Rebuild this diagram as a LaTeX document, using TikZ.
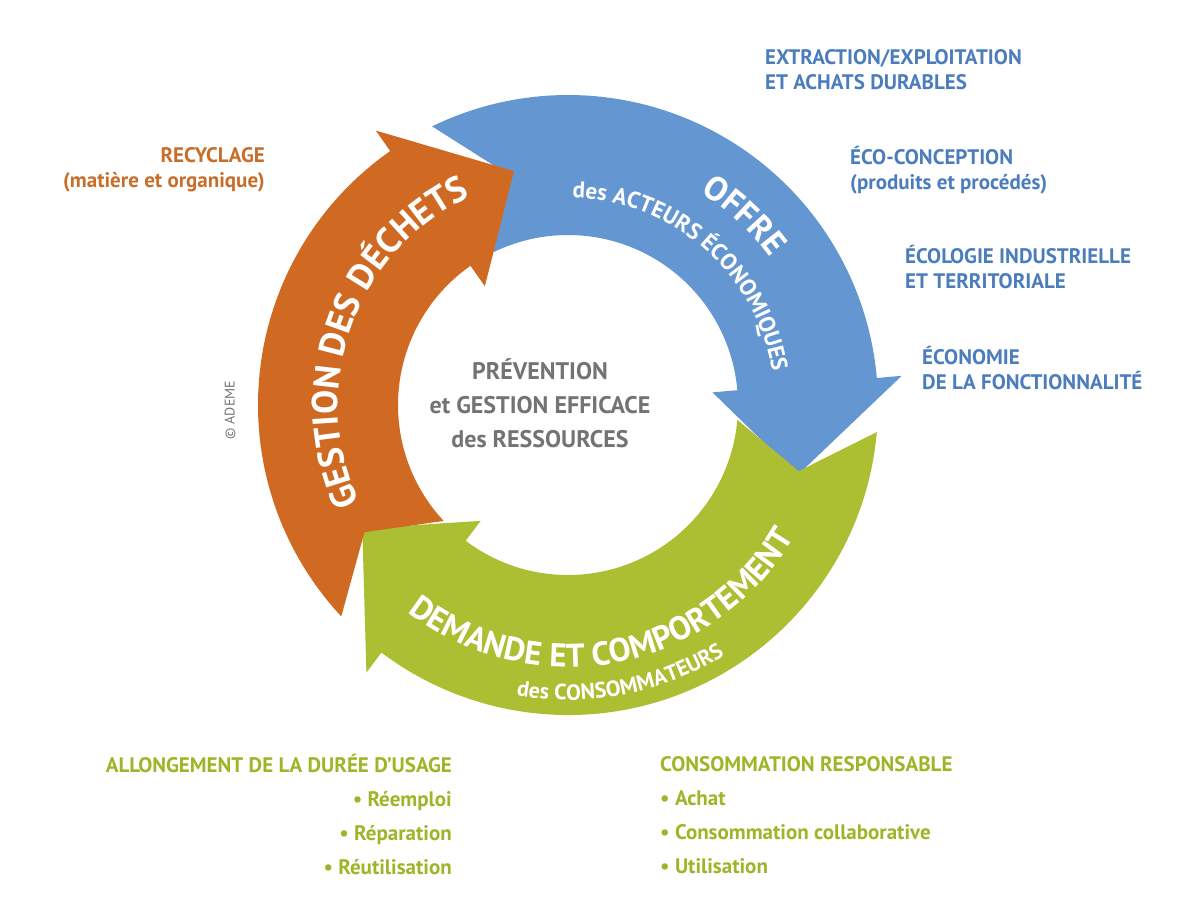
\documentclass[tikz,border=0pt]{standalone}
\usepackage{fontspec}
\setmainfont{PT Sans}
\usetikzlibrary{calc,decorations.text}
\definecolor{corange}{RGB}{208,106,34}
\definecolor{cblue}{RGB}{100,150,210}
\definecolor{cgreen}{RGB}{172,190,50}
\definecolor{torange}{RGB}{200,110,40}
\definecolor{tblue}{RGB}{75,125,190}
\definecolor{tgreen}{RGB}{160,180,40}
\definecolor{tgray}{RGB}{115,115,115}
\newcommand\circarrow[3]{%
\fill[#1] ($(C)+(#2:310)$) arc[start angle=#2, end angle=#3, radius=310pt]
 -- ($(C)+(#3:335)$) -- ($(C)+(#3-22:240)$) -- ($(C)+(#3:145)$) -- ($(C)+(#3:170)$)
 arc[start angle=#3, end angle=#2, radius=170pt] -- ($(C)+(#2-11:240)$) -- cycle;}
\newcommand\arctext[6]{% r, a0, a1, size, text, color
\path[decorate,decoration={text along path,text align=center,text color=#6,
 text={|\fontsize{#4}{#4}\selectfont\bfseries|#5}}]
 ($(C)+(#2:#1)$) arc[start angle=#2, end angle=#3, radius=#1pt];}
\tikzset{lbl/.style={font=\fontsize{21}{25}\selectfont\bfseries,inner sep=0pt},
 ctr/.style={font=\fontsize{24}{34}\selectfont\bfseries,text=tgray,align=center}}
\begin{document}
\begin{tikzpicture}[x=1pt,y=1pt]
\useasboundingbox (0,0) rectangle (1200,-900);
\coordinate (C) at (568,-405);
\circarrow{cblue}{116}{5}
\circarrow{cgreen}{-5}{-127}
\circarrow{corange}{-137}{-235}
\arctext{230}{203}{117}{36}{GESTION DES DÉCHETS}{white}
\arctext{250}{75}{19}{34}{OFFRE}{white}
\arctext{207}{113}{-15}{23}{des ACTEURS ÉCONOMIQUES}{white}
\arctext{262}{208}{354}{33}{DEMANDE ET COMPORTEMENT}{white}
\arctext{295}{238}{324}{22}{des CONSOMMATEURS}{white}
\node[ctr] (center) at (540,-403) {PRÉVENTION\\et GESTION EFFICACE\\des RESSOURCES};
\node[lbl,text=torange,anchor=east,align=right] (rec) at (265,-170) {RECYCLAGE\\(matière et organique)};
\node[lbl,text=tblue,anchor=west,align=left] (b1) at (765,-70) {EXTRACTION/EXPLOITATION\\ET ACHATS DURABLES};
\node[lbl,text=tblue,anchor=west,align=left] (b2) at (850,-170) {ÉCO-CONCEPTION\\(produits et procédés)};
\node[lbl,text=tblue,anchor=west,align=left] (b3) at (905,-267) {ÉCOLOGIE INDUSTRIELLE\\ET TERRITORIALE};
\node[lbl,text=tblue,anchor=west,align=left] (b4) at (922,-368) {ÉCONOMIE\\DE LA FONCTIONNALITÉ};
\node[lbl,text=tgreen,anchor=east,align=right,font=\fontsize{21}{34}\selectfont\bfseries] (g1) at (452,-815)
 {ALLONGEMENT DE LA DURÉE D’USAGE\\• Réemploi\\• Réparation\\• Réutilisation};
\node[lbl,text=tgreen,anchor=west,align=left,font=\fontsize{21}{34}\selectfont\bfseries] (g2) at (660,-815)
 {CONSOMMATION RESPONSABLE\\• Achat\\• Consommation collaborative\\• Utilisation};
\node[rotate=90,text=tgray,font=\fontsize{14}{14}\selectfont] (ademe) at (230,-410) {© ADEME};
\end{tikzpicture}
\end{document}
